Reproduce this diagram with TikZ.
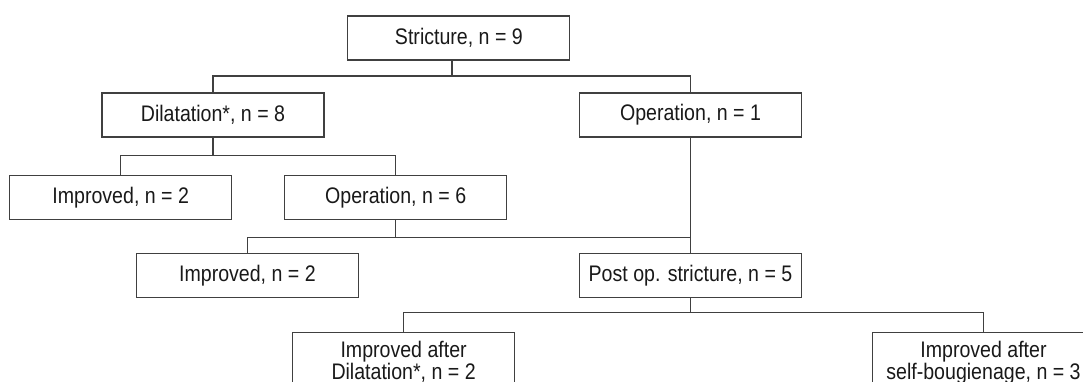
\documentclass[tikz,border=0pt]{standalone}
\usepackage{fontspec}
\setmainfont[FakeStretch=0.87]{Liberation Sans}
\begin{document}
\begin{tikzpicture}[x=1pt,y=-1pt,
  line/.style={draw=black!75,line width=1.1pt},
  box/.style={line,rectangle,minimum width=222pt,minimum height=44pt,inner sep=0pt,
    font=\fontsize{22.5}{21.7}\selectfont,text=black!90},
  tallbox/.style={line,rectangle,minimum width=222pt,inner sep=0pt,anchor=north,align=center,
    font=\fontsize{22.5}{21.7}\selectfont,text=black!90}]
\useasboundingbox (0,0) rectangle (1083,382);
\clip (0,0) rectangle (1083,382);
\node[box] (strict) at (458.9,38) {Stricture, n = 9};
\node[box] (dil) at (213,115) {Dilatation*, n = 8};
\node[box] (op1) at (690.5,115) {Operation, n = 1};
\node[box] (imp1) at (120.7,197.5) {Improved, n = 2};
\node[box] (op6) at (395.7,197.5) {Operation, n = 6};
\node[box] (imp2) at (247.4,275.4) {Improved, n = 2};
\node[box] (post) at (690.5,275.4) {Post op. stricture, n = 5};
\node[tallbox] (d2) at (403.6,332) {\rule{0pt}{25.3pt}Improved after\\Dilatation*, n = 2\rule[-40pt]{0pt}{40pt}};
\node[tallbox] (s3) at (983.5,332) {\rule{0pt}{25.3pt}Improved after\\self-bougienage, n = 3\rule[-40pt]{0pt}{40pt}};
\coordinate (j1) at (452,76);
\coordinate (j2) at (0,155.7);
\coordinate (j3) at (0,237.7);
\coordinate (j4) at (0,312.7);
\draw[line] (j1 |- strict.south) -- (j1);
\draw[line] (dil.north) -- (dil.north |- j1) -- (op1.north |- j1) -- (op1.north);
\draw[line] (dil.south) -- (dil.south |- j2);
\draw[line] (imp1.north) -- (imp1.north |- j2) -- (op6.north |- j2) -- (op6.north);
\draw[line] (op6.south) -- (op6.south |- j3);
\draw[line] (imp2.north) -- (imp2.north |- j3) -- (post.north |- j3);
\draw[line] (op1.south) -- (post.north);
\draw[line] (post.south) -- (post.south |- j4);
\draw[line] (d2.north) -- (d2.north |- j4) -- (s3.north |- j4) -- (s3.north);
\end{tikzpicture}
\end{document}
